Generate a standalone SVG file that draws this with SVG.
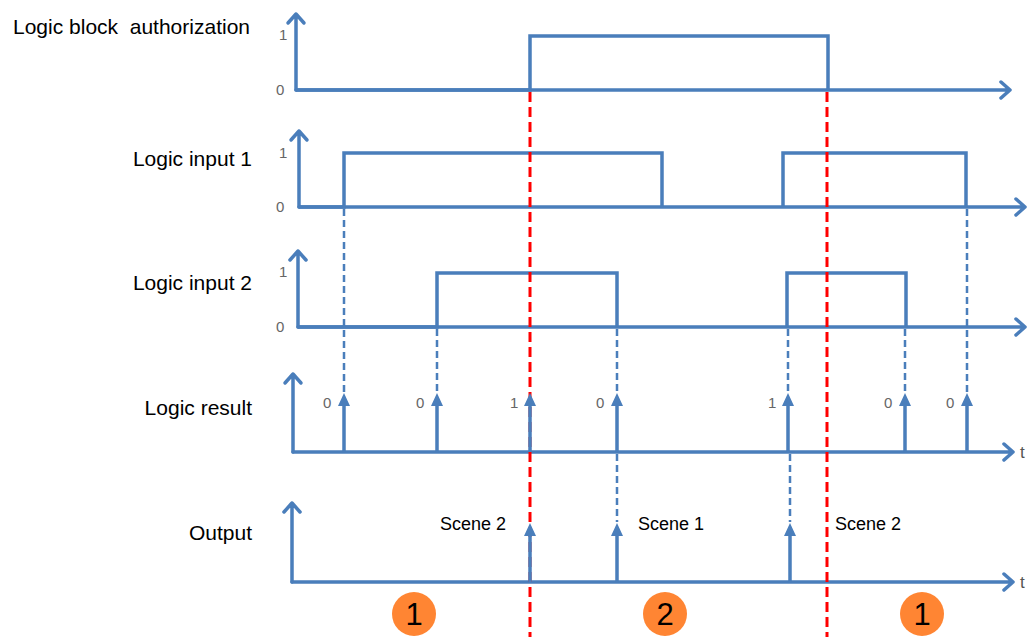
<svg xmlns="http://www.w3.org/2000/svg" width="1031" height="637" viewBox="0 0 1031 637">
<defs>
<style>
.sig{fill:none;stroke:#4a7ebb;stroke-width:3.5;stroke-linejoin:miter}
.ax{fill:none;stroke:#4a7ebb;stroke-width:3.5;stroke-linecap:round;stroke-linejoin:round}
.dash{fill:none;stroke:#4a7ebb;stroke-width:2.5;stroke-dasharray:7,4}
.red{fill:none;stroke:#ff0000;stroke-width:3;stroke-dasharray:10,5}
.imp{fill:none;stroke:#4a7ebb;stroke-width:3.5}
.tri{fill:#4a7ebb}
.lbl{font-family:"Liberation Sans",Arial,sans-serif;font-size:21px;fill:#000;text-anchor:end}
.tick{font-family:"Liberation Sans",Arial,sans-serif;font-size:15px;fill:#666}
.tl{font-family:"Liberation Sans",Arial,sans-serif;font-size:17px;fill:#555}
.scene{font-family:"Liberation Sans",Arial,sans-serif;font-size:18px;fill:#000}
.circ{fill:#ff8533}
.num{font-family:"Liberation Sans",Arial,sans-serif;font-size:31px;fill:#000;text-anchor:middle}
</style>
</defs>
<rect width="1031" height="637" fill="#fff"/>

<g id="labels">
<text class="lbl" x="250" y="34" xml:space="preserve">Logic block  authorization</text>
<text class="lbl" x="252" y="166">Logic input 1</text>
<text class="lbl" x="252" y="290">Logic input 2</text>
<text class="lbl" x="252" y="415">Logic result</text>
<text class="lbl" x="252" y="540">Output</text>
</g>

<g id="panel-authorization">
<path class="ax" d="M296,90 V14 M288,23 L296,14 L304,23"/>
<path class="ax" d="M296,90 H1010 M1001,82 L1010,90 L1001,98"/>
<path class="sig" d="M296,90 H530 V36 H828 V90"/>
<text class="tick" x="279" y="40">1</text>
<text class="tick" x="276" y="95">0</text>
</g>

<g id="panel-input1">
<path class="ax" d="M299,207 V131 M291,140 L299,131 L307,140"/>
<path class="ax" d="M299,207 H1025 M1016,199 L1025,207 L1016,215"/>
<path class="sig" d="M299,207 H344 V153 H662 V207 M783,207 V153 H966 V207"/>
<text class="tick" x="279" y="158">1</text>
<text class="tick" x="276" y="212">0</text>
</g>

<g id="panel-input2">
<path class="ax" d="M298,327 V251 M290,260 L298,251 L306,260"/>
<path class="ax" d="M298,327 H1025 M1016,319 L1025,327 L1016,335"/>
<path class="sig" d="M298,327 H437 V273 H617 V327 M787,327 V273 H906 V327"/>
<text class="tick" x="279" y="277">1</text>
<text class="tick" x="276" y="332">0</text>
</g>

<g id="panel-result-axes">
<path class="ax" d="M293,452 V374 M285,383 L293,374 L301,383"/>
<path class="ax" d="M293,452 H1013 M1004,444 L1013,452 L1004,460"/>
<text class="tl" x="1020" y="458">t</text>
</g>

<g id="panel-output-axes">
<path class="ax" d="M292,582 V503 M284,512 L292,503 L300,512"/>
<path class="ax" d="M292,582 H1013 M1004,574 L1013,582 L1004,590"/>
<text class="tl" x="1020" y="588">t</text>
</g>

<g id="connectors">
<path class="dash" d="M344,209 V392"/>
<path class="dash" d="M437,329 V392"/>
<path class="dash" d="M617,329 V392"/>
<path class="dash" d="M788,329 V392"/>
<path class="dash" d="M905,329 V392"/>
<path class="dash" d="M967,209 V392"/>
<path class="dash" d="M617,454 V522"/>
<path class="dash" d="M790,454 V522"/>
<path class="red" d="M530,92 V637"/>
<path class="red" d="M827,92 V637"/>
</g>

<g id="panel-result">
<path class="imp" d="M344,452 V404 M437,452 V404 M530,452 V404 M617,452 V404 M788,452 V404 M905,452 V404 M967,452 V404"/>
<path class="tri" d="M338,406 L344,393 L350,406 Z M431,406 L437,393 L443,406 Z M524,406 L530,393 L536,406 Z M611,406 L617,393 L623,406 Z M782,406 L788,393 L794,406 Z M899,406 L905,393 L911,406 Z M961,406 L967,393 L973,406 Z"/>
<text class="tick" x="323" y="408">0</text>
<text class="tick" x="416" y="408">0</text>
<text class="tick" x="510" y="408">1</text>
<text class="tick" x="596" y="408">0</text>
<text class="tick" x="768" y="408">1</text>
<text class="tick" x="884" y="408">0</text>
<text class="tick" x="946" y="408">0</text>
</g>

<g id="panel-output">
<path class="imp" d="M530,582 V534 M617,582 V534 M790,582 V534"/>
<path class="tri" d="M524,536 L530,523 L536,536 Z M611,536 L617,523 L623,536 Z M784,536 L790,523 L796,536 Z"/>
<text class="scene" x="440" y="530">Scene 2</text>
<text class="scene" x="638" y="530">Scene 1</text>
<text class="scene" x="835" y="530">Scene 2</text>
</g>

<g id="phase-1a">
<circle class="circ" cx="414" cy="614" r="22"/>
<text class="num" x="414" y="625">1</text>
</g>
<g id="phase-2">
<circle class="circ" cx="665" cy="614" r="22"/>
<text class="num" x="665" y="625">2</text>
</g>
<g id="phase-1b">
<circle class="circ" cx="922" cy="614" r="22"/>
<text class="num" x="922" y="625">1</text>
</g>
</svg>
